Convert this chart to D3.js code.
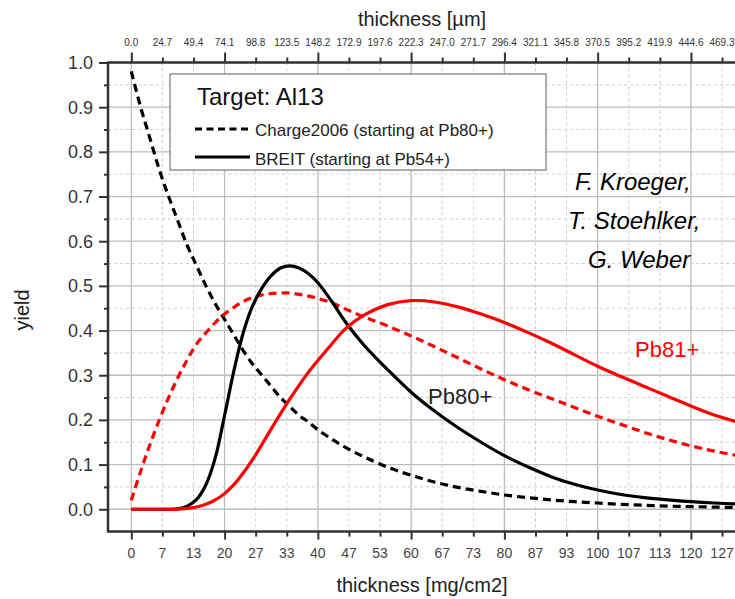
<!DOCTYPE html>
<html>
<head>
<meta charset="utf-8">
<script src="https://cdn.jsdelivr.net/npm/d3@7"></script>
<style>
  html, body { margin: 0; padding: 0; background: #fff; }
  svg { display: block; font-family: "Liberation Sans", Arial, sans-serif; }
</style>
</head>
<body>
<svg id="chart" width="735" height="599"></svg>
<script>
// ---------------- DATA ----------------
const thickness = [0, 2, 4, 6, 8, 10, 12, 14, 16, 18, 20, 22, 24, 26, 28, 30, 32, 34, 36, 38, 40, 43, 46, 50, 55, 60, 65, 70, 75, 80, 85, 90, 95, 100, 105, 110, 115, 120, 125, 130, 135];

// Charge2006 (starting at Pb80+), Pb80+ yield — black dashed
const charge2006Pb80 = [0.98, 0.90, 0.83, 0.76, 0.70, 0.645, 0.59, 0.545, 0.50, 0.46, 0.425, 0.39, 0.355, 0.325, 0.30, 0.275, 0.25, 0.23, 0.21, 0.195, 0.178, 0.157, 0.138, 0.117, 0.094, 0.076, 0.061, 0.049, 0.040, 0.032, 0.026, 0.021, 0.017, 0.014, 0.011, 0.009, 0.007, 0.006, 0.005, 0.004, 0.003];
// Charge2006 (starting at Pb80+), Pb81+ yield — red dashed
const charge2006Pb81 = [0.02, 0.085, 0.145, 0.20, 0.25, 0.295, 0.335, 0.37, 0.395, 0.418, 0.437, 0.452, 0.465, 0.474, 0.48, 0.483, 0.484, 0.484, 0.481, 0.477, 0.472, 0.462, 0.448, 0.43, 0.41, 0.388, 0.364, 0.339, 0.314, 0.29, 0.268, 0.248, 0.228, 0.208, 0.19, 0.172, 0.156, 0.142, 0.13, 0.12, 0.111];
// BREIT (starting at Pb54+), Pb80+ yield — black solid
const breitPb80 = [0, 0, 0, 0, 0, 0.001, 0.007, 0.022, 0.055, 0.115, 0.21, 0.31, 0.395, 0.455, 0.495, 0.523, 0.54, 0.545, 0.54, 0.527, 0.507, 0.465, 0.418, 0.366, 0.312, 0.262, 0.22, 0.183, 0.15, 0.12, 0.095, 0.073, 0.056, 0.043, 0.033, 0.026, 0.021, 0.017, 0.014, 0.012, 0.011];
// BREIT (starting at Pb54+), Pb81+ yield — red solid
const breitPb81 = [0, 0, 0, 0, 0, 0, 0.002, 0.005, 0.011, 0.021, 0.035, 0.055, 0.081, 0.111, 0.145, 0.18, 0.214, 0.247, 0.278, 0.307, 0.333, 0.37, 0.405, 0.435, 0.458, 0.467, 0.464, 0.453, 0.437, 0.418, 0.396, 0.372, 0.346, 0.32, 0.297, 0.275, 0.253, 0.231, 0.211, 0.195, 0.179];

const bottomTickLabels = ["0","7","13","20","27","33","40","47","53","60","67","73","80","87","93","100","107","113","120","127"];
const topTickLabels = ["0.0","24.7","49.4","74.1","98.8","123.5","148.2","172.9","197.6","222.3","247.0","271.7","296.4","321.1","345.8","370.5","395.2","419.9","444.6","469.3"];
const yTickLabels = ["0.0","0.1","0.2","0.3","0.4","0.5","0.6","0.7","0.8","0.9","1.0"];

// ---------------- LAYOUT ----------------
const svg = d3.select("#chart");
const plotLeft = 108, plotTop = 62.5, plotBottom = 531.6;
const pxPerUnit = 4.6635;
const x = d3.scaleLinear().domain([-5, 140]).range([plotLeft, plotLeft + 145 * pxPerUnit]);
const y = d3.scaleLinear().domain([-0.05, 1.0]).range([plotBottom, plotTop]);
const plotRight = x(140);

const xTickVals = bottomTickLabels.map((d, i) => i * 20 / 3);
const xGridVals = xTickVals.concat([20 * 20 / 3]);
const yMajorVals = yTickLabels.map(d => +d);
const yMinorVals = yMajorVals.slice(0, -1).map(v => v + 0.05);

// ---------------- GRID ----------------
const grid = svg.append("g");
xGridVals.forEach((v, i) => {
  grid.append("line")
    .attr("x1", x(v)).attr("x2", x(v)).attr("y1", plotTop).attr("y2", plotBottom)
    .attr("stroke", i % 3 === 0 ? "#bdbdbd" : "#cfcfcf")
    .attr("stroke-width", i % 3 === 0 ? 1.3 : 1)
    .attr("stroke-dasharray", i % 3 === 0 ? null : "3,3");
});
yMajorVals.forEach(v => {
  grid.append("line")
    .attr("x1", plotLeft).attr("x2", plotRight).attr("y1", y(v)).attr("y2", y(v))
    .attr("stroke", "#bdbdbd").attr("stroke-width", 1.3);
});
yMinorVals.forEach(v => {
  grid.append("line")
    .attr("x1", plotLeft).attr("x2", plotRight).attr("y1", y(v)).attr("y2", y(v))
    .attr("stroke", "#cfcfcf").attr("stroke-width", 1).attr("stroke-dasharray", "3,3");
});

// ---------------- CURVES ----------------
const series = [
  { vals: charge2006Pb80, color: "#000", dash: "8,5" },
  { vals: charge2006Pb81, color: "#ff0000", dash: "8,5" },
  { vals: breitPb80, color: "#000", dash: null },
  { vals: breitPb81, color: "#ff0000", dash: null }
];
const line = d3.line().x(d => x(d[0])).y(d => y(Math.max(0, d[1]))).curve(d3.curveCatmullRom.alpha(0.5));
series.forEach(s => {
  svg.append("path")
    .datum(thickness.map((t, i) => [t, s.vals[i]]))
    .attr("d", line)
    .attr("fill", "none")
    .attr("stroke", s.color)
    .attr("stroke-width", 3.2)
    .attr("stroke-dasharray", s.dash);
});

// ---------------- AXES ----------------
const axisColor = "#333";
// bottom
const bAxisMajor = d3.axisBottom(x).tickValues(xGridVals.filter((d, i) => i % 3 === 0)).tickSize(8).tickFormat("").tickSizeOuter(0);
const bAxisMinor = d3.axisBottom(x).tickValues(xGridVals.filter((d, i) => i % 3 !== 0)).tickSize(5).tickFormat("").tickSizeOuter(0);
[bAxisMajor, bAxisMinor].forEach(a => {
  const g = svg.append("g").attr("transform", `translate(0,${plotBottom})`).call(a);
  g.select(".domain").remove();
  g.selectAll("line").attr("stroke", axisColor).attr("stroke-width", 2);
});
svg.append("g").selectAll("text").data(xTickVals).join("text")
  .attr("x", d => x(d)).attr("y", plotBottom + 26.7)
  .attr("text-anchor", "middle").attr("font-size", 14).attr("fill", "#444")
  .text((d, i) => bottomTickLabels[i]);

// top
const tAxisMajor = d3.axisTop(x).tickValues(xGridVals.filter((d, i) => i % 3 === 0)).tickSize(10).tickFormat("").tickSizeOuter(0);
const tAxisMinor = d3.axisTop(x).tickValues(xGridVals.filter((d, i) => i % 3 !== 0)).tickSize(5).tickFormat("").tickSizeOuter(0);
[tAxisMajor, tAxisMinor].forEach(a => {
  const g = svg.append("g").attr("transform", `translate(0,${plotTop})`).call(a);
  g.select(".domain").remove();
  g.selectAll("line").attr("stroke", axisColor).attr("stroke-width", 2);
});
svg.append("g").selectAll("text").data(xTickVals).join("text")
  .attr("x", d => x(d)).attr("y", 45.7)
  .attr("text-anchor", "middle").attr("font-size", 10).attr("fill", "#333")
  .text((d, i) => topTickLabels[i]);

// left
const lAxisMajor = d3.axisLeft(y).tickValues(yMajorVals).tickSize(9).tickFormat("").tickSizeOuter(0);
const lAxisMinor = d3.axisLeft(y).tickValues(yMinorVals).tickSize(4).tickFormat("").tickSizeOuter(0);
[lAxisMajor, lAxisMinor].forEach(a => {
  const g = svg.append("g").attr("transform", `translate(${plotLeft},0)`).call(a);
  g.select(".domain").remove();
  g.selectAll("line").attr("stroke", axisColor).attr("stroke-width", 2);
});
svg.append("g").selectAll("text").data(yMajorVals).join("text")
  .attr("x", 93).attr("y", d => y(d)).attr("dy", "0.36em")
  .attr("text-anchor", "end").attr("font-size", 18).attr("fill", "#333")
  .text((d, i) => yTickLabels[i]);

// axis lines
svg.append("line").attr("x1", plotLeft).attr("x2", plotLeft).attr("y1", plotTop - 1).attr("y2", plotBottom + 1)
  .attr("stroke", axisColor).attr("stroke-width", 2.5);
svg.append("line").attr("x1", plotLeft).attr("x2", plotRight).attr("y1", plotBottom).attr("y2", plotBottom)
  .attr("stroke", axisColor).attr("stroke-width", 2.5);
svg.append("line").attr("x1", plotLeft).attr("x2", plotRight).attr("y1", plotTop).attr("y2", plotTop)
  .attr("stroke", axisColor).attr("stroke-width", 2.5);

// axis titles
svg.append("text").attr("x", 422).attr("y", 26).attr("text-anchor", "middle")
  .attr("font-size", 20).attr("fill", "#222").text("thickness [µm]");
svg.append("text").attr("x", 422).attr("y", 592).attr("text-anchor", "middle")
  .attr("font-size", 20).attr("fill", "#222").text("thickness [mg/cm2]");
svg.append("text").attr("transform", "translate(29,310) rotate(-90)").attr("text-anchor", "middle")
  .attr("font-size", 20).attr("fill", "#222").text("yield");

// ---------------- LEGEND ----------------
const lg = svg.append("g");
lg.append("rect").attr("x", 170).attr("y", 74).attr("width", 376).attr("height", 96)
  .attr("fill", "#fff").attr("stroke", "#777").attr("stroke-width", 1.2);
lg.append("text").attr("x", 197).attr("y", 105).attr("font-size", 24).attr("fill", "#111").text("Target: Al13");
lg.append("line").attr("x1", 195).attr("x2", 250).attr("y1", 129).attr("y2", 129)
  .attr("stroke", "#000").attr("stroke-width", 3).attr("stroke-dasharray", "7,4.5");
lg.append("text").attr("x", 255).attr("y", 136).attr("font-size", 17).attr("fill", "#222").text("Charge2006 (starting at Pb80+)");
lg.append("line").attr("x1", 195).attr("x2", 250).attr("y1", 157).attr("y2", 157)
  .attr("stroke", "#000").attr("stroke-width", 3);
lg.append("text").attr("x", 255).attr("y", 165).attr("font-size", 17).attr("fill", "#222").text("BREIT (starting at Pb54+)");

// ---------------- ANNOTATIONS ----------------
const authors = [
  { t: "F. Kroeger,", x: 575, y: 190 },
  { t: "T. Stoehlker,", x: 568, y: 229 },
  { t: "G. Weber", x: 588, y: 268 }
];
authors.forEach(a => {
  svg.append("text").attr("x", a.x).attr("y", a.y).attr("font-size", 24)
    .attr("font-style", "italic").attr("fill", "#000").text(a.t);
});
svg.append("text").attr("x", 635).attr("y", 357).attr("font-size", 22).attr("fill", "#ff0000").text("Pb81+");
svg.append("text").attr("x", 428).attr("y", 404).attr("font-size", 22).attr("fill", "#222").text("Pb80+");
</script>
</body>
</html>
